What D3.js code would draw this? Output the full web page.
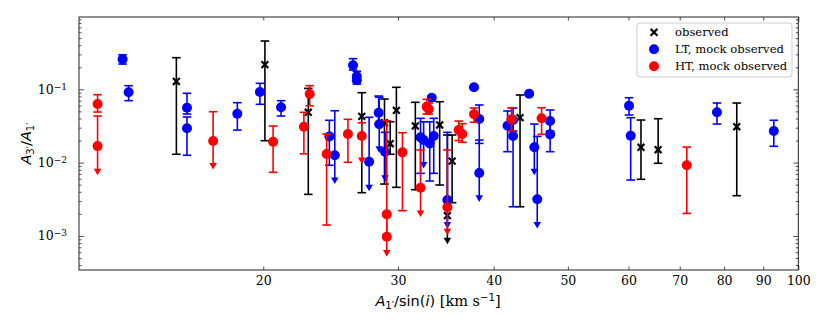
<!DOCTYPE html>
<html>
<head>
<meta charset="utf-8">
<script src="https://cdn.jsdelivr.net/npm/d3@7"></script>
<style>
  body { margin: 0; background: #fff; }
</style>
</head>
<body>
<div id="chart"></div>
<script>
// observed points (x = A1'/sin i, y = A3'/A1', lo/hi = error bar ends, lim = upper limit)
const observed = [
  {x: 15.4, y: 0.128, lo: 0.0130, hi: 0.270},
  {x: 20.1, y: 0.217, lo: 0.0199, hi: 0.456},
  {x: 22.9, y: 0.0486, lo: 0.00369, hi: 0.103},
  {x: 26.9, y: 0.0428, lo: 0.00389, hi: 0.0899},
  {x: 28.8, y: 0.0350, lo: 0.00510, hi: 0.0737},
  {x: 29.3, y: 0.0181, lo: 0.0130, hi: 0.0361},
  {x: 29.85, y: 0.0517, lo: 0.00460, hi: 0.1065},
  {x: 31.6, y: 0.0316, lo: 0.00427, hi: 0.0665},
  {x: 34.0, y: 0.0326, lo: 0.00495, hi: 0.0677},
  {x: 35.3, y: 0.0105, lo: 0.00284, hi: 0.0238},
  {x: 34.8, y: 0.00189, lo: 0.00086, hi: 0.0238, lim: true},
  {x: 43.3, y: 0.0410, lo: 0.00250, hi: 0.0836},
  {x: 62.3, y: 0.0162, lo: 0.00592, hi: 0.0381},
  {x: 65.6, y: 0.0150, lo: 0.0098, hi: 0.0397},
  {x: 83.1, y: 0.0309, lo: 0.00354, hi: 0.0650}
];

// LT, mock observed
const ltMock = [
  {x: 13.1, y: 0.257, lo: 0.221, hi: 0.296},
  {x: 13.34, y: 0.091, lo: 0.070, hi: 0.112},
  {x: 15.9, y: 0.0561, lo: 0.0460, hi: 0.0882},
  {x: 15.9, y: 0.0294, lo: 0.0126, hi: 0.0419},
  {x: 18.5, y: 0.0465, lo: 0.0278, hi: 0.0657},
  {x: 19.8, y: 0.0919, lo: 0.0624, hi: 0.1207},
  {x: 21.1, y: 0.0568, lo: 0.0432, hi: 0.0699},
  {x: 24.4, y: 0.0228, lo: 0.00919, hi: 0.0378},
  {x: 24.8, y: 0.0126, lo: 0.0057, hi: 0.0510, lim: true},
  {x: 26.2, y: 0.213, lo: 0.183, hi: 0.262},
  {x: 26.5, y: 0.150, lo: 0.135, hi: 0.176},
  {x: 26.5, y: 0.133, lo: 0.118, hi: 0.150},
  {x: 27.5, y: 0.0103, lo: 0.00455, hi: 0.0415, lim: true},
  {x: 28.3, y: 0.0479, lo: 0.0333, hi: 0.0810},
  {x: 28.35, y: 0.0333, lo: 0.0152, hi: 0.0778, lim: true},
  {x: 28.85, y: 0.0141, lo: 0.0061, hi: 0.0259, lim: true},
  {x: 32.1, y: 0.0221, lo: 0.00714, hi: 0.0402},
  {x: 32.4, y: 0.0203, lo: 0.00928, hi: 0.0361, lim: true},
  {x: 33.0, y: 0.0183, lo: 0.00561, hi: 0.0361},
  {x: 33.4, y: 0.0231, lo: 0.00714, hi: 0.0402},
  {x: 33.2, y: 0.0768, lo: 0.074, hi: 0.080},
  {x: 34.8, y: 0.00309, lo: 0.00141, hi: 0.0259, lim: true},
  {x: 37.7, y: 0.1065, lo: 0.102, hi: 0.111},
  {x: 38.3, y: 0.0393, lo: 0.0183, hi: 0.0611},
  {x: 38.3, y: 0.00721, lo: 0.00326, hi: 0.0203, lim: true},
  {x: 41.7, y: 0.0319, lo: 0.0141, hi: 0.0506},
  {x: 42.4, y: 0.0381, lo: 0.0270, hi: 0.0556},
  {x: 42.4, y: 0.0231, lo: 0.00250, hi: 0.0390},
  {x: 44.5, y: 0.087, lo: 0.084, hi: 0.090},
  {x: 45.2, y: 0.0162, lo: 0.00751, hi: 0.0336, lim: true},
  {x: 45.6, y: 0.00316, lo: 0.00141, hi: 0.0228, lim: true},
  {x: 47.4, y: 0.0369, lo: 0.0270, hi: 0.0522},
  {x: 47.4, y: 0.0243, lo: 0.0141, hi: 0.0369},
  {x: 60.1, y: 0.0597, lo: 0.0446, hi: 0.0768},
  {x: 60.4, y: 0.0233, lo: 0.00579, hi: 0.0410},
  {x: 78.3, y: 0.0486, lo: 0.0336, hi: 0.0650},
  {x: 92.9, y: 0.0270, lo: 0.0167, hi: 0.0378}
];

// HT, mock observed
const htMock = [
  {x: 12.15, y: 0.0630, lo: 0.0490, hi: 0.0844},
  {x: 12.15, y: 0.0168, lo: 0.00751, hi: 0.0432, lim: true},
  {x: 17.2, y: 0.0197, lo: 0.00899, hi: 0.0495, lim: true},
  {x: 20.6, y: 0.0193, lo: 0.00737, hi: 0.0316},
  {x: 23.0, y: 0.0863, lo: 0.0597, hi: 0.112},
  {x: 22.6, y: 0.0309, lo: 0.0132, hi: 0.0486},
  {x: 24.2, y: 0.0131, lo: 0.00141, hi: 0.0246},
  {x: 25.8, y: 0.0246, lo: 0.0101, hi: 0.0390},
  {x: 26.9, y: 0.0231, lo: 0.0107, hi: 0.0350, lim: true},
  {x: 29.0, y: 0.00197, lo: 0.00098, hi: 0.0372},
  {x: 29.0, y: 0.000975, lo: 0.000584, hi: 0.0020, lim: true},
  {x: 30.4, y: 0.0138, lo: 0.00221, hi: 0.0256},
  {x: 32.1, y: 0.00455, lo: 0.00203, hi: 0.0149, lim: true},
  {x: 32.7, y: 0.0579, lo: 0.0460, hi: 0.0730},
  {x: 32.9, y: 0.0538, lo: 0.0460, hi: 0.0650},
  {x: 34.8, y: 0.00246, lo: 0.00114, hi: 0.0149, lim: true},
  {x: 36.0, y: 0.0278, lo: 0.0200, hi: 0.0369},
  {x: 36.4, y: 0.0246, lo: 0.0189, hi: 0.0340},
  {x: 37.7, y: 0.0456, lo: 0.0355, hi: 0.0556},
  {x: 42.2, y: 0.0390, lo: 0.0270, hi: 0.0561},
  {x: 46.2, y: 0.0402, lo: 0.0243, hi: 0.0561},
  {x: 71.5, y: 0.00919, lo: 0.00203, hi: 0.0163}
];

const xTickVals = [20, 30, 40, 50, 60, 70, 80, 90, 100];
const yMajorVals = [1e-3, 1e-2, 1e-1];
const yMajorExp = ['\u22123', '\u22122', '\u22121'];
const legendLabels = ['observed', 'LT, mock observed', 'HT, mock observed'];

const serif = '"DejaVu Serif", serif', sans = '"DejaVu Sans", sans-serif';
const w = 830, h = 332;
const mLeft = 79, mRight = 798.3, mTop = 17, mBottom = 270;

const svg = d3.select('#chart').append('svg')
  .attr('width', w).attr('height', h);

//Escalas
const x = d3.scaleLog().domain([11.49, 100]).range([mLeft, mRight]);
const y = d3.scaleLog().domain([3.43e-4, 0.969]).range([mBottom, mTop]);

// minor ticks on the y axis (2..9 x 10^k)
const yMinorVals = [];
[-4, -3, -2, -1].forEach(k => {
  for (let m = 2; m <= 9; m++) {
    const v = m * Math.pow(10, k);
    if (v > y.domain()[0] && v < y.domain()[1]) yMinorVals.push(v);
  }
});

function styleAxis(g) {
  g.select('.domain').remove();
  g.selectAll('.tick line').attr('stroke', '#222').attr('stroke-width', 0.8);
  g.attr('font-family', serif).attr('font-size', 12.5);
  g.selectAll('.tick text').attr('fill', '#000');
}

// x axis bottom + top
svg.append('g')
  .attr('transform', `translate(0,${mBottom})`)
  .call(d3.axisBottom(x).tickValues(xTickVals).tickFormat(d3.format('d'))
    .tickSizeInner(-3.5).tickSizeOuter(0).tickPadding(6))
  .call(styleAxis)
  .selectAll('.tick line').attr('y2', d => d === 100 ? -5 : -3.5);

svg.append('g')
  .attr('transform', `translate(0,${mTop})`)
  .call(d3.axisTop(x).tickValues(xTickVals).tickFormat('')
    .tickSizeInner(-3.5).tickSizeOuter(0))
  .call(styleAxis)
  .selectAll('.tick line').attr('y2', d => d === 100 ? 5 : 3.5);

// y axis left: minor then major
svg.append('g')
  .attr('transform', `translate(${mLeft},0)`)
  .call(d3.axisLeft(y).tickValues(yMinorVals).tickFormat('').tickSizeInner(-2.5).tickSizeOuter(0))
  .call(styleAxis);

const gy = svg.append('g')
  .attr('transform', `translate(${mLeft},0)`)
  .call(d3.axisLeft(y).tickValues(yMajorVals).tickFormat('').tickSizeInner(-5).tickSizeOuter(0).tickPadding(12))
  .call(styleAxis);

gy.selectAll('.tick text').each(function (d, i) {
  const t = d3.select(this);
  t.append('tspan').text('10');
  t.append('tspan').attr('dy', '-0.45em').attr('font-size', '0.72em').text(yMajorExp[i]);
});

// y axis right
svg.append('g')
  .attr('transform', `translate(${mRight},0)`)
  .call(d3.axisRight(y).tickValues(yMinorVals).tickFormat('').tickSizeInner(-2.5).tickSizeOuter(0))
  .call(styleAxis);
svg.append('g')
  .attr('transform', `translate(${mRight},0)`)
  .call(d3.axisRight(y).tickValues(yMajorVals).tickFormat('').tickSizeInner(-5).tickSizeOuter(0))
  .call(styleAxis);

// frame
svg.append('rect')
  .attr('x', mLeft).attr('y', mTop)
  .attr('width', mRight - mLeft).attr('height', mBottom - mTop)
  .attr('fill', 'none').attr('stroke', '#222').attr('stroke-width', 1);

// x marker path
const xMark = (s) => `M${-s},${-s}L${s},${s}M${-s},${s}L${s},${-s}`;

function drawSeries(data, color, marker) {
  const g = svg.append('g');
  const bars = g.selectAll('g.bar').data(data).enter().append('g').attr('class', 'bar');

  bars.append('line')
    .attr('x1', d => x(d.x)).attr('x2', d => x(d.x))
    .attr('y1', d => y(d.hi)).attr('y2', d => y(d.lo))
    .attr('stroke', color).attr('stroke-width', 1.6);

  // cap arriba
  bars.append('line')
    .attr('x1', d => x(d.x) - 4.3).attr('x2', d => x(d.x) + 4.3)
    .attr('y1', d => y(d.hi)).attr('y2', d => y(d.hi))
    .attr('stroke', color).attr('stroke-width', 1.6);

  // cap abajo (si no es limite)
  bars.filter(d => !d.lim).append('line')
    .attr('x1', d => x(d.x) - 4.3).attr('x2', d => x(d.x) + 4.3)
    .attr('y1', d => y(d.lo)).attr('y2', d => y(d.lo))
    .attr('stroke', color).attr('stroke-width', 1.6);

  // flecha para limites superiores
  bars.filter(d => d.lim).append('path')
    .attr('transform', d => `translate(${x(d.x)},${y(d.lo)})`)
    .attr('d', 'M-3.8,-3L3.8,-3L0,3.6Z')
    .attr('fill', color);

  if (marker === 'x') {
    g.selectAll('path.mk').data(data).enter().append('path')
      .attr('class', 'mk')
      .attr('transform', d => `translate(${x(d.x)},${y(d.y)})`)
      .attr('d', xMark(3.4))
      .attr('stroke', color).attr('stroke-width', 2.2).attr('fill', 'none');
  } else {
    g.selectAll('circle').data(data).enter().append('circle')
      .attr('cx', d => x(d.x)).attr('cy', d => y(d.y))
      .attr('r', 5).attr('fill', color);
  }
}

drawSeries(observed, '#000', 'x');
drawSeries(ltMock, '#0000ff', 'o');
drawSeries(htMock, '#ff0000', 'o');

// axis labels
const yl = svg.append('text')
  .attr('transform', 'translate(31,143.5) rotate(-90)')
  .attr('text-anchor', 'middle')
  .attr('font-family', sans).attr('font-size', 14.5);
yl.append('tspan').attr('font-style', 'italic').text('A');
yl.append('tspan').attr('font-size', '0.7em').attr('dy', '0.25em').text('3\u2032');
yl.append('tspan').attr('dy', '-0.175em').text('/');
yl.append('tspan').attr('font-style', 'italic').text('A');
yl.append('tspan').attr('font-size', '0.7em').attr('dy', '0.25em').text('1\u2032');

const xl = svg.append('text')
  .attr('x', 438).attr('y', 306)
  .attr('text-anchor', 'middle')
  .attr('font-family', sans).attr('font-size', 14.5);
xl.append('tspan').attr('font-style', 'italic').text('A');
xl.append('tspan').attr('font-size', '0.7em').attr('dy', '0.25em').text('1\u2032');
xl.append('tspan').attr('dy', '-0.175em').text('/sin(');
xl.append('tspan').attr('font-style', 'italic').text('i');
xl.append('tspan').text(')');
xl.append('tspan').attr('font-family', serif).text(' [km s');
xl.append('tspan').attr('font-size', '0.7em').attr('dy', '-0.5em').text('\u22121');
xl.append('tspan').attr('font-family', serif).attr('dy', '0.35em').text(']');

// leyenda
const lg = svg.append('g');
lg.append('rect')
  .attr('x', 637).attr('y', 23).attr('width', 155).attr('height', 54)
  .attr('rx', 3).attr('fill', '#fff').attr('fill-opacity', 0.8)
  .attr('stroke', '#ccc').attr('stroke-width', 1);

const legendColors = ['#000', '#0000ff', '#ff0000'];
legendLabels.forEach((lab, i) => {
  const ly = 32.3 + i * 17;
  if (i === 0) {
    lg.append('path').attr('transform', `translate(654,${ly})`)
      .attr('d', xMark(3.4)).attr('stroke', '#000').attr('stroke-width', 2.2);
  } else {
    lg.append('circle').attr('cx', 654).attr('cy', ly).attr('r', 5).attr('fill', legendColors[i]);
  }
  lg.append('text').attr('x', 675).attr('y', ly).attr('dy', '0.35em')
    .attr('font-family', serif).attr('font-size', 11.6).text(lab);
});
</script>
</body>
</html>
